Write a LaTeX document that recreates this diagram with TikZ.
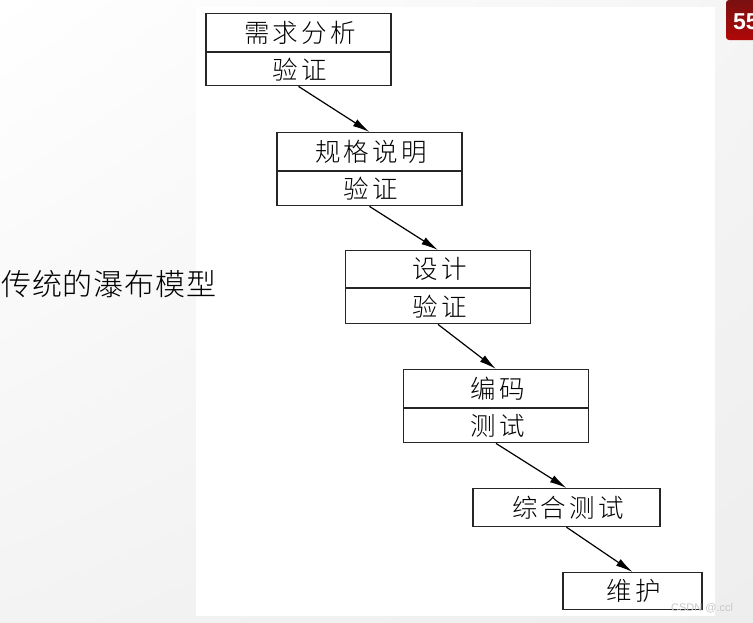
\documentclass[tikz,border=0pt]{standalone}
\usepackage{fontspec}
\usetikzlibrary{arrows.meta,shadings}
\newfontfamily\cjkbox[LetterSpace=12,UprightFont={* Light}]{Noto Sans CJK SC}
\newfontfamily\cjktitle[LetterSpace=3,UprightFont={* Light}]{Noto Sans CJK SC}
\newfontfamily\numfont{Liberation Sans}
\newcommand\stxt[1]{\kern1.5pt#1\kern-1.5pt}
\definecolor{bgray}{HTML}{EEEEEE}
\definecolor{pnum}{HTML}{B00808}
\definecolor{pnumdark}{HTML}{7A1010}
\tikzset{
  stage/.style={draw=black!85, line width=1.2pt, fill=white, rectangle, inner sep=0pt,
    minimum width=185pt, minimum height=#1, anchor=north,
    font=\cjkbox\fontsize{25.5}{25.5}\selectfont},
  stage/.default=38pt,
  flow/.style={line width=1.2pt, black, -{Latex[length=17pt,width=8pt]}}
}
\begin{document}
\begin{tikzpicture}[x=1pt,y=-1pt]
\useasboundingbox (0,0) rectangle (753,622);
\shade[upper left=white, upper right=bgray!60, lower left=bgray!70, lower right=bgray] (0,0) rectangle (753,622);
\fill[white] (196,7) rectangle (715,616);
% page number badge
\shade[top color=pnumdark, bottom color=pnum, rounded corners=3pt] (726,0) rectangle (770,40);
\node[anchor=west, inner sep=0pt, text=white, font=\numfont\bfseries\fontsize{23}{23}\selectfont] (pg) at (733,22) {55};
% title
\node[anchor=west, inner sep=0pt, font=\cjktitle\fontsize{30}{30}\selectfont] (title) at (1,284) {传统的瀑布模型};
% stages
\node[stage=38pt] (s1a) at (298.5,13) {\stxt{需求分析}};
\node[stage=33pt] (s1b) at (s1a.south) {\stxt{验证}};
\node[stage=38pt] (s2a) at (369.5,132) {\stxt{规格说明}};
\node[stage=34pt] (s2b) at (s2a.south) {\stxt{验证}};
\node[stage=37pt] (s3a) at (438,250) {\stxt{设计}};
\node[stage=35pt] (s3b) at (s3a.south) {\stxt{验证}};
\node[stage=38pt] (s4a) at (496,369) {\stxt{编码}};
\node[stage=34pt] (s4b) at (s4a.south) {\stxt{测试}};
\node[stage=38pt, minimum width=187pt] (s5) at (566.5,488) {\stxt{综合测试}};
\node[stage=37pt, minimum width=139pt] (s6) at (632.5,572) {\stxt{维护}};
% connectors
\draw[flow] (s1b.south) -- (s2a.north);
\draw[flow] (s2b.south) -- (s3a.north);
\draw[flow] (s3b.south) -- (s4a.north);
\draw[flow] (s4b.south) -- (s5.north);
\draw[flow] (s5.south) -- (s6.north);
% watermark
\node[anchor=west, inner sep=0pt, text=black!22, font=\numfont\fontsize{11}{11}\selectfont] (wm) at (671,608) {CSDN @.ccl};
\end{tikzpicture}
\end{document}
